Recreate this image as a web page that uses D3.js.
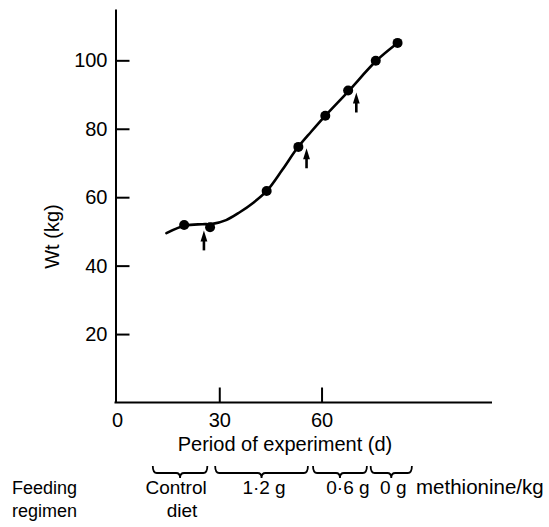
<!DOCTYPE html>
<html>
<head>
<meta charset="utf-8">
<script src="https://cdn.jsdelivr.net/npm/d3@7"></script>
<style>
  html, body { margin: 0; padding: 0; background: #fff; }
  svg { display: block; }
  text { font-family: "Liberation Sans", Arial, Helvetica, sans-serif; fill: #000; }
</style>
</head>
<body>
<svg id="chart" width="549" height="527"></svg>
<script>
// ---- data ----
const days    = [19.7, 27.3, 43.9, 53.2, 61.1, 67.8, 75.9, 82.3];
const weights = [51.9, 51.2, 61.8, 74.7, 83.8, 91.2, 99.9, 105.1];

// fitted (hand-drawn) growth curve
const curveDays    = [14.5, 20, 25, 28, 32, 36, 40, 44, 48.5, 53, 57, 61, 68, 76, 82.5];
const curveWeights = [49.5, 51.7, 52.1, 52.2, 53.3, 55.6, 58.4, 61.9, 68.0, 74.5, 79.2, 83.7, 91.1, 99.8, 105.2];

// arrows marking diet changes (day, weight at arrow tip)
const arrowDays    = [25.5, 55.6, 70.2];
const arrowWeights = [50.3, 74.3, 90.6];

// feeding regimens (start/end day of each brace)
const regimenLabels = [["Control", "diet"], ["1·2 g"], ["0·6 g"], ["0 g"]];
const regimenStart  = [10.5, 28.8, 57.5, 74.4];
const regimenEnd    = [26.5, 56.0, 73.3, 86.5];

const xTicks = [0, 30, 60];
const yTicks = [20, 40, 60, 80, 100];

const xTitle = "Period of experiment (d)";
const yTitle = "Wt (kg)";
const unitLabel = "methionine/kg";
const rowTitle = ["Feeding", "regimen"];

// ---- drawing ----
const svg = d3.select("#chart");
const x = d3.scaleLinear().domain([0, 110]).range([117, 492]);
const y = d3.scaleLinear().domain([0, 115]).range([402.5, 9]);

const FS = 20;

// y axis
const yAxis = d3.axisLeft(y).tickValues(yTicks).tickSizeInner(-14).tickSizeOuter(0).tickPadding(8);
const gy = svg.append("g").attr("transform", `translate(${x(0) - 1.5},0)`).call(yAxis);
gy.select(".domain").attr("stroke", "#000").attr("stroke-width", 2);
gy.selectAll(".tick line").attr("stroke", "#000").attr("stroke-width", 2);
gy.selectAll(".tick text").attr("font-size", FS).attr("font-family", null).attr("fill", "#000");

// x axis
const xAxis = d3.axisBottom(x).tickValues(xTicks).tickSizeInner(-15).tickSizeOuter(0).tickPadding(10.5);
const gx = svg.append("g").attr("transform", `translate(0,${y(0)})`).call(xAxis);
gx.select(".domain").attr("stroke", "#000").attr("stroke-width", 2)
  .attr("d", `M${x(0) - 2.5},0H${x(110)}`);
gx.selectAll(".tick line").attr("stroke", "#000").attr("stroke-width", 2)
  .attr("display", d => d === 0 ? "none" : null);
gx.selectAll(".tick text").attr("font-size", FS).attr("font-family", null).attr("fill", "#000");

// axis titles
svg.append("text")
  .attr("transform", `translate(59,${y(48.5)}) rotate(-90)`)
  .attr("text-anchor", "middle")
  .attr("font-size", FS)
  .text(yTitle);

svg.append("text")
  .attr("x", 285).attr("y", 451)
  .attr("text-anchor", "middle")
  .attr("font-size", FS)
  .text(xTitle);

// fitted curve
const line = d3.line().x(d => x(d[0])).y(d => y(d[1])).curve(d3.curveCatmullRom.alpha(0.5));
svg.append("path")
  .datum(curveDays.map((d, i) => [d, curveWeights[i]]))
  .attr("d", line)
  .attr("fill", "none").attr("stroke", "#000").attr("stroke-width", 2.6)
  .attr("stroke-linecap", "round");

// data points
svg.selectAll("circle.pt")
  .data(days.map((d, i) => [d, weights[i]]))
  .join("circle")
  .attr("class", "pt")
  .attr("cx", d => x(d[0])).attr("cy", d => y(d[1]))
  .attr("r", 5).attr("fill", "#000");

// arrows
const arrowLen = 20, headLen = 11, headHalf = 3.4;
const ag = svg.append("g");
arrowDays.forEach((d, i) => {
  const ax = x(d), ay = y(arrowWeights[i]);
  ag.append("line")
    .attr("x1", ax).attr("x2", ax)
    .attr("y1", ay + headLen - 1).attr("y2", ay + arrowLen)
    .attr("stroke", "#000").attr("stroke-width", 2.6);
  ag.append("path")
    .attr("d", `M${ax},${ay} L${ax + headHalf},${ay + headLen} L${ax - headHalf},${ay + headLen} Z`)
    .attr("fill", "#000");
});

// regimen braces
const bTop = 466, bBot = 473, bDip = 478, r = 4;
const bg = svg.append("g").attr("fill", "none").attr("stroke", "#000").attr("stroke-width", 1.8);
regimenStart.forEach((s, i) => {
  const x0 = x(s), x1 = x(regimenEnd[i]), xm = (x0 + x1) / 2;
  const p = `M${x0},${bTop} Q${x0},${bBot} ${x0 + r},${bBot} L${xm - r},${bBot} Q${xm},${bBot} ${xm},${bDip} Q${xm},${bBot} ${xm + r},${bBot} L${x1 - r},${bBot} Q${x1},${bBot} ${x1},${bTop}`;
  bg.append("path").attr("d", p);
});

// regimen labels (layout offsets from brace centres)
const labelOffsets = [-4, 2.5, 8, 2];
const secondLineOffset = 6;
const LFS = 19;
regimenLabels.forEach((lines, i) => {
  const cx = (x(regimenStart[i]) + x(regimenEnd[i])) / 2 + labelOffsets[i];
  lines.forEach((t, j) => {
    svg.append("text")
      .attr("x", cx + (j === 1 ? secondLineOffset : 0)).attr("y", 494 + j * 23)
      .attr("text-anchor", "middle")
      .attr("font-size", LFS)
      .text(t);
  });
});

svg.append("text").attr("x", 416).attr("y", 494).attr("font-size", 20.5).text(unitLabel);

rowTitle.forEach((t, j) => {
  svg.append("text").attr("x", 12).attr("y", 494 + j * 23).attr("font-size", 18).text(t);
});
</script>
</body>
</html>
